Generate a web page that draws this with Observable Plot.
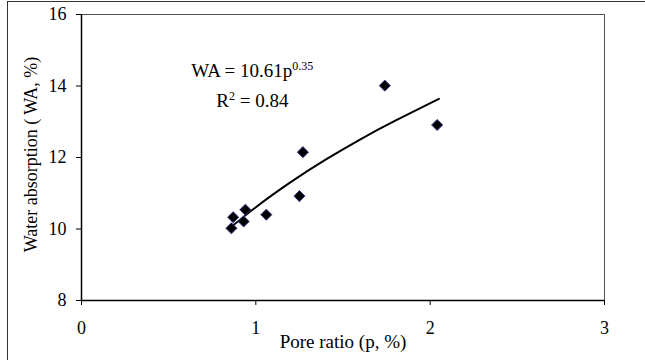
<!DOCTYPE html>
<html>
<head>
<meta charset="utf-8">
<script src="https://cdn.jsdelivr.net/npm/d3@7"></script>
<script src="https://cdn.jsdelivr.net/npm/@observablehq/plot@0.6"></script>
<style>
  html, body { margin: 0; padding: 0; background: #fff; }
  #wrap { position: relative; width: 645px; height: 360px; overflow: hidden; }
  #outer { position: absolute; left: 7px; top: 1px; width: 700px; height: 400px;
           border-left: 1px solid #333; border-top: 1px solid #333; pointer-events: none; }
  svg { font-family: "Liberation Serif", "Times New Roman", serif; }
</style>
</head>
<body>
<div id="wrap"><div id="outer"></div></div>
<script>
// Measured data points (pore ratio p, %) vs (water absorption WA, %)
const poreRatio = [0.86, 0.87, 0.93, 0.94, 1.06, 1.25, 1.27, 1.74, 2.04];
const waterAbs  = [10.02, 10.33, 10.21, 10.54, 10.40, 10.92, 12.15, 14.01, 12.91];

// Power trendline WA = 10.61 p^0.35
const trendX = [0.86, 1.0, 1.2, 1.4, 1.6, 1.8, 2.05];
const trendY = [10.06, 10.61, 11.31, 11.94, 12.51, 13.03, 13.64];

// Axis ticks
const xTicks = [0, 1, 2, 3];
const yTicks = [8, 10, 12, 14, 16];

// Annotation text
const eqLabels = [
  {x: 0.98, y: 14.43, main: "WA = 10.61p", sup: "0.35", after: ""},
  {x: 0.98, y: 13.57, main: "R", sup: "2", after: " = 0.84"}
];

const points = poreRatio.map((p, i) => ({p, wa: waterAbs[i]}));
const trend = trendX.map((p, i) => ({p, wa: trendY[i]}));

const plot = Plot.plot({
  width: 645,
  height: 360,
  marginLeft: 81,
  marginRight: 41,
  marginTop: 14,
  marginBottom: 60,
  style: {fontFamily: '"Liberation Serif", "Times New Roman", serif', fontSize: "18px", color: "#000", background: "transparent"},
  x: {domain: [0, 3]},
  y: {domain: [8, 16]},
  marks: [
    Plot.frame({stroke: "#555", strokeWidth: 1}),
    Plot.axisY({ticks: yTicks, tickFormat: d => String(d), tickSize: 5, tickPadding: 10, fontSize: 18, label: null, stroke: "#000"}),
    Plot.axisX({ticks: xTicks, tickFormat: d => String(d), tickSize: 5, tickPadding: 16, fontSize: 18, label: null, stroke: "#000"}),
    Plot.ruleX([0], {stroke: "#000", strokeWidth: 1.5}),
    Plot.ruleY([8], {stroke: "#000", strokeWidth: 1.5}),
    Plot.text(["Water absorption ( WA, %)"], {frameAnchor: "left", textAnchor: "middle", rotate: -90, dx: -50, dy: -3, fontSize: 18, fill: "#000"}),
    Plot.text(["Pore ratio (p, %)"], {frameAnchor: "bottom", dy: 47, fontSize: 19, fill: "#000"}),
    Plot.line(trend, {x: "p", y: "wa", curve: "natural", stroke: "#000", strokeWidth: 2}),
    Plot.dot(points, {x: "p", y: "wa", symbol: "diamond2", r: 5, fill: "#000", stroke: "#3a3a8c", strokeWidth: 1}),
    Plot.text(eqLabels, {x: "x", y: "y", text: "main", fontSize: 19, fill: "#000", className: "eq"})
  ]
});

document.getElementById("wrap").prepend(plot);

// rich text: superscripts
d3.select(plot).selectAll("g.eq text").each(function(d, i) {
  const lab = eqLabels[i];
  const t = d3.select(this);
  t.text(null);
  t.append("tspan").text(lab.main);
  t.append("tspan").attr("baseline-shift", "super").attr("font-size", 12).text(lab.sup);
  if (lab.after) t.append("tspan").text(lab.after);
});
</script>
</body>
</html>
